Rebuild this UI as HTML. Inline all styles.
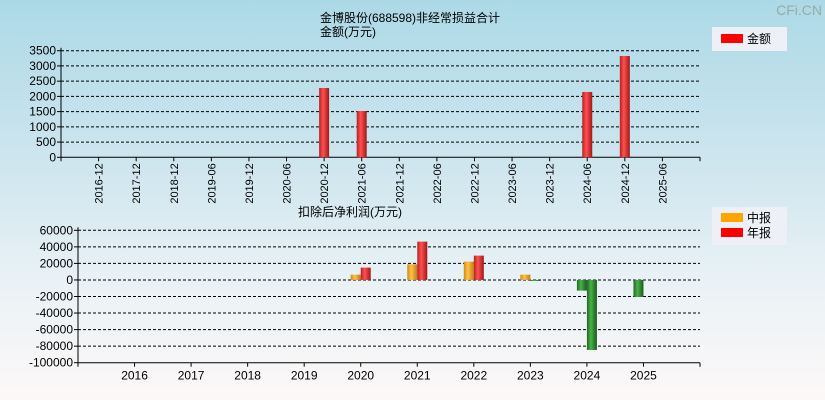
<!DOCTYPE html>
<html><head><meta charset="utf-8"><style>
body{margin:0;width:825px;height:400px;overflow:hidden;background:linear-gradient(#acd9e7 0%,#d2e7ef 45%,#e9f2f6 70%,#fdf8f8 100%);font-family:"Liberation Sans","Noto Sans CJK SC",sans-serif;}
svg{position:absolute;left:0;top:0}
</style></head><body>
<svg id="c" width="825" height="400">
<defs>
<linearGradient id="gr" x1="0" x2="1"><stop offset="0" stop-color="#b82020"/><stop offset="0.4" stop-color="#ff5050"/><stop offset="1" stop-color="#a01818"/></linearGradient>
<linearGradient id="go" x1="0" x2="1"><stop offset="0" stop-color="#d08a10"/><stop offset="0.4" stop-color="#ffc050"/><stop offset="1" stop-color="#c08010"/></linearGradient>
<linearGradient id="gg" x1="0" x2="1"><stop offset="0" stop-color="#1f6a1f"/><stop offset="0.4" stop-color="#4ab04a"/><stop offset="1" stop-color="#1a5a1a"/></linearGradient>
</defs>
<text x="822" y="15" font-size="14" fill="#99aaaa" text-anchor="end">CFi.CN</text>
<text x="410" y="22" font-size="12" text-anchor="middle">金博股份(688598)非经常损益合计</text>
<text x="320" y="36" font-size="12">金额(万元)</text>
<g><rect x="712" y="27" width="75" height="24" fill="#eef0f8"/><rect x="721" y="34" width="22" height="9" fill="#f00"/><text x="747" y="43" font-size="12">金额</text></g>
<text x="350" y="216" font-size="12" text-anchor="middle">扣除后净利润(万元)</text>
<g><rect x="712" y="207" width="75" height="38" fill="#eef0f8"/><rect x="721" y="213" width="22" height="9" fill="#ffa500"/><text x="747" y="222" font-size="12">中报</text><rect x="721" y="228" width="22" height="9" fill="#f00"/><text x="747" y="237" font-size="12">年报</text></g>
<g id="top"></g><g id="bot"></g>
</svg>
<script>
const topCats=["2016-12","2017-12","2018-12","2019-06","2019-12","2020-06","2020-12","2021-06","2021-12","2022-06","2022-12","2023-06","2023-12","2024-06","2024-12","2025-06"];
const topVals=[0,0,0,0,0,0,2275,1520,0,0,0,0,0,2145,3325,0];
const topTicks=[0,500,1000,1500,2000,2500,3000,3500];
const botCats=["2016","2017","2018","2019","2020","2021","2022","2023","2024","2025"];
const midVals=[0,0,0,0,6400,18900,22100,6400,-12900,-20500];
const annVals=[0,0,0,0,14900,46300,29400,-1000,-84600,null];
const botTicks=[60000,40000,20000,0,-20000,-40000,-60000,-80000,-100000];
const NS="http://www.w3.org/2000/svg";
function mk(p,t,a){const e=document.createElementNS(NS,t);for(const k in a)e.setAttribute(k,a[k]);p.appendChild(e);return e;}
const T=document.getElementById('top');
const tx0=61,tx1=700,ty0=157.3,ty1=50.7;
const tX=i=>tx0+(tx1-tx0)/(topCats.length+1)*(i+1);
const tY=v=>ty0-(v/3500)*(ty0-ty1);
topTicks.forEach(v=>{const y=tY(v);
 if(v>0){const l=mk(T,'line',{x1:tx0,x2:tx1,y1:y,y2:y,stroke:'#000','stroke-dasharray':'3,2','stroke-width':1});}
 mk(T,'line',{x1:tx0-4,x2:tx0,y1:y,y2:y,stroke:'#000'});
 const t=mk(T,'text',{x:tx0-5,y:y+4,'font-size':12,'text-anchor':'end'});t.textContent=v;
 });
mk(T,'line',{x1:tx0,x2:tx0,y1:ty1-3,y2:ty0,stroke:'#000'});
mk(T,'line',{x1:tx0,x2:tx1,y1:ty0,y2:ty0,stroke:'#000'});
mk(T,'line',{x1:tx1,x2:tx1,y1:ty0,y2:ty0+4,stroke:'#000'});
mk(T,'line',{x1:tx0,x2:tx0,y1:ty0,y2:ty0+4,stroke:'#000'});
topCats.forEach((c,i)=>{const x=tX(i);
 mk(T,'line',{x1:x,x2:x,y1:ty0,y2:ty0+4,stroke:'#000'});
 const t=mk(T,'text',{x:0,y:0,'font-size':11,'text-anchor':'end',transform:`translate(${x+4},${ty0+6}) rotate(-90)`});t.textContent=c;
 
 const v=topVals[i];if(v){const r=mk(T,'rect',{x:x-5,y:tY(v),width:10,height:ty0-tY(v),fill:'url(#gr)'});
 }});
const B=document.getElementById('bot');
const bx0=78,bx1=700,by0=230.3,by1=362.7;
const bX=i=>bx0+(bx1-bx0)/(botCats.length+1)*(i+1);
const bY=v=>by0+(60000-v)/160000*(by1-by0);
botTicks.forEach(v=>{const y=bY(v);
 if(v>-100000){const l=mk(B,'line',{x1:bx0,x2:bx1,y1:y,y2:y,stroke:'#000','stroke-dasharray':'3,2'});}
 mk(B,'line',{x1:bx0-4,x2:bx0,y1:y,y2:y,stroke:'#000'});
 const t=mk(B,'text',{x:bx0-5,y:y+4,'font-size':12,'text-anchor':'end'});t.textContent=v;
 });
mk(B,'line',{x1:bx0,x2:bx0,y1:by0-3,y2:by1,stroke:'#000'});
mk(B,'line',{x1:bx0,x2:bx1,y1:by1,y2:by1,stroke:'#000'});
mk(B,'line',{x1:bx0,x2:bx0,y1:by1,y2:by1+4,stroke:'#000'});
mk(B,'line',{x1:bx1,x2:bx1,y1:by1,y2:by1+4,stroke:'#000'});
const z=bY(0);
function bar(x,v,fill,name){if(v===null||v===undefined||v===0)return;
 const y=bY(v);const r=mk(B,'rect',{x:x,y:Math.min(y,z),width:10,height:Math.max(Math.abs(y-z),1),fill:v<0?'url(#gg)':fill});
 }
botCats.forEach((c,i)=>{const x=bX(i);
 mk(B,'line',{x1:x,x2:x,y1:by1,y2:by1+4,stroke:'#000'});
 const t=mk(B,'text',{x:x,y:by1+17,'font-size':12,'text-anchor':'middle'});t.textContent=c;
 
 bar(x-10,midVals[i],'url(#go)','interim-bar-'+c);
 bar(x,annVals[i],'url(#gr)','annual-bar-'+c);});
</script>
</body></html>
